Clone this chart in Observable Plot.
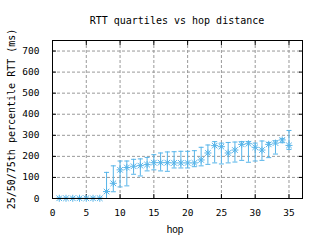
<!DOCTYPE html>
<html><head><meta charset="utf-8">
<script src="https://cdn.jsdelivr.net/npm/d3@7"></script>
<script src="https://cdn.jsdelivr.net/npm/@observablehq/plot@0.6"></script>
<style>
body{margin:0;background:#fff;width:320px;height:240px;overflow:hidden}
#title{height:30px;box-sizing:border-box;padding-top:15px;padding-left:52px;width:302px;line-height:10px;font:10px "DejaVu Sans Mono",monospace;text-align:center;white-space:nowrap;color:#000}
#chart svg{display:block}
</style></head><body>
<div id="title">RTT quartiles vs hop distance</div>
<div id="chart"></div>
<script>
const hops = [1,2,3,4,5,6,7,8,9,10,11,12,13,14,15,16,17,18,19,20,21,22,23,24,25,26,27,28,29,30,31,32,33,34,35];
const q25 = [0,0,0,0,0,0,0,0,32,55,60,115,107,131,136,131,129,145,145,145,151,155,162,169,164,169,173,181,172,178,181,194,211,265,233];
const q50 = [1,1,1,1,1,1,1,33,72,136,147,153,156,161,170,170,170,169,169,169,169,183,216,251,246,216,230,257,260,243,230,257,263,278,252];
const q75 = [2,2,2,2,2,2,2,124,155,178,178,186,188,195,208,216,221,222,224,224,227,243,254,270,263,266,268,270,270,263,273,266,274,284,323];
const xTicks = [0,5,10,15,20,25,30,35];
const yTicks = [0,100,200,300,400,500,600,700];
const titleText = "RTT quartiles vs hop distance";
const xLabel = "hop";
const yLabel = "25/50/75th percentile RTT (ms)";
const color = "#56b4e9";

const data = hops.map((h, i) => ({hop: h, q25: q25[i], q50: q50[i], q75: q75[i]}));

const star = {draw(ctx, size) {
  const r = Math.sqrt(size / Math.PI), d = r * 0.8;
  ctx.moveTo(-r, 0); ctx.lineTo(r, 0);
  ctx.moveTo(0, -r); ctx.lineTo(0, r);
  ctx.moveTo(-d, -d); ctx.lineTo(d, d);
  ctx.moveTo(-d, d); ctx.lineTo(d, -d);
}};
const cap = {draw(ctx, size) {
  const r = Math.sqrt(size / Math.PI);
  ctx.moveTo(-r, 0); ctx.lineTo(r, 0);
}};

document.getElementById("title").textContent = titleText;

const plot = Plot.plot({
  width: 320, height: 210,
  marginTop: 10, marginBottom: 42, marginLeft: 52, marginRight: 18,
  style: {fontFamily: '"DejaVu Sans Mono", monospace', fontSize: "9.5px", color: "#000", background: "#fff"},
  x: {domain: [0, 37], ticks: xTicks, axis: null, label: null},
  y: {domain: [0, 750], ticks: yTicks, axis: null, label: null},
  marks: [
    Plot.gridX(xTicks.filter(t => t > 0), {stroke: "#999", strokeOpacity: 1, strokeDasharray: "3,2"}),
    Plot.gridY(yTicks.filter(t => t > 0), {stroke: "#999", strokeOpacity: 1, strokeDasharray: "3,2"}),
    Plot.axisX(xTicks, {anchor: "bottom", tickSize: -4, tickPadding: 15, label: null}),
    Plot.axisX(xTicks, {anchor: "top", tickSize: -4, tickFormat: () => "", label: null}),
    Plot.axisY(yTicks, {anchor: "left", tickSize: -4, tickPadding: 17, label: null}),
    Plot.axisY(yTicks, {anchor: "right", tickSize: -4, tickFormat: () => "", label: null}),
    Plot.ruleX(data, {x: "hop", y1: "q25", y2: "q75", stroke: color, strokeWidth: 1}),
    Plot.dot(data, {x: "hop", y: "q25", symbol: cap, r: 2.5, stroke: color, fill: "none", strokeWidth: 1}),
    Plot.dot(data, {x: "hop", y: "q75", symbol: cap, r: 2.5, stroke: color, fill: "none", strokeWidth: 1}),
    Plot.dot(data, {x: "hop", y: "q50", symbol: star, r: 3.5, stroke: color, fill: "none", strokeWidth: 1}),
    Plot.frame({stroke: "#000", strokeWidth: 1})
  ]
});

const svg = d3.select(plot);
svg.append("text")
  .attr("x", 175).attr("y", 203)
  .attr("text-anchor", "middle")
  .attr("font-family", '"Liberation Sans", Arial, sans-serif')
  .attr("font-size", "10px")
  .attr("fill", "#000")
  .text(xLabel);
svg.append("text")
  .attr("transform", "translate(15,89) rotate(-90)")
  .attr("text-anchor", "middle")
  .attr("font-family", '"DejaVu Sans Mono", monospace')
  .attr("font-size", "10px")
  .attr("fill", "#000")
  .text(yLabel);

document.getElementById("chart").appendChild(plot);
</script>
</body></html>
